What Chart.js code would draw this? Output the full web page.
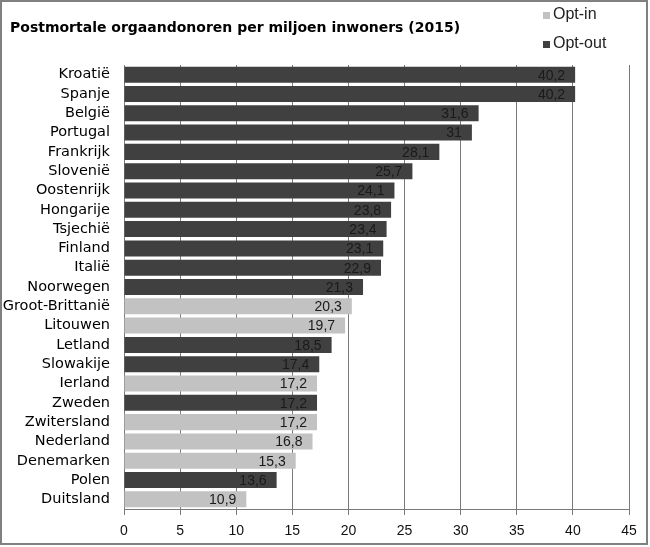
<!DOCTYPE html>
<html>
<head>
<meta charset="utf-8">
<script src="https://cdn.jsdelivr.net/npm/chart.js@4"></script>
<style>
  html, body { margin: 0; padding: 0; background: #fff; }
  #wrap { width: 650px; height: 547px; }
</style>
</head>
<body>
<div id="wrap"><canvas id="c" width="650" height="547"></canvas></div>
<script>
const categories = ["Kroatië","Spanje","België","Portugal","Frankrijk","Slovenië","Oostenrijk","Hongarije","Tsjechië","Finland","Italië","Noorwegen","Groot-Brittanië","Litouwen","Letland","Slowakije","Ierland","Zweden","Zwitersland","Nederland","Denemarken","Polen","Duitsland"];
const donorValues = [40.2,40.2,31.6,31,28.1,25.7,24.1,23.8,23.4,23.1,22.9,21.3,20.3,19.7,18.5,17.4,17.2,17.2,17.2,16.8,15.3,13.6,10.9];
const systemType = ["out","out","out","out","out","out","out","out","out","out","out","out","in","in","out","out","in","out","in","in","in","out","in"];
const seriesNames = ["Opt-in","Opt-out"];
const xTicks = [0,5,10,15,20,25,30,35,40,45];
const titleText = "Postmortale orgaandonoren per miljoen inwoners (2015)";

const COLORS = { "Opt-in": "#c2c2c2", "Opt-out": "#404040" };

const optInData = donorValues.map((v, i) => systemType[i] === "in" ? v : null);
const optOutData = donorValues.map((v, i) => systemType[i] === "out" ? v : null);

const fmt = v => String(v).replace(".", ",");

const decorPlugin = {
  id: "decor",
  afterDatasetsDraw(chart) {
    const ctx = chart.ctx;
    ctx.save();
    ctx.font = "14px 'Liberation Sans', Arial, sans-serif";
    ctx.fillStyle = "#1a1a1a";
    ctx.textAlign = "right";
    ctx.textBaseline = "middle";
    chart.data.datasets.forEach((ds, di) => {
      const meta = chart.getDatasetMeta(di);
      meta.data.forEach((bar, i) => {
        const v = ds.data[i];
        if (v === null || v === undefined) return;
        ctx.fillText(fmt(v), bar.x - 10, bar.y + 1);
      });
    });
    ctx.restore();
  },
  afterDraw(chart) {
    const ctx = chart.ctx;
    ctx.save();
    ctx.font = "bold 14px 'DejaVu Sans', Verdana, sans-serif";
    ctx.fillStyle = "#000";
    ctx.textAlign = "left";
    ctx.textBaseline = "middle";
    ctx.fillText(titleText, 10, 28);
    ctx.font = "16px 'Liberation Sans', Arial, sans-serif";
    const ly = [15, 44];
    seriesNames.forEach((n, k) => {
      ctx.fillStyle = COLORS[n];
      ctx.fillRect(543, ly[k] - 3, 7, 7);
      ctx.fillStyle = "#222";
      ctx.fillText(n, 553, ly[k]);
    });
    ctx.strokeStyle = "#808080";
    ctx.lineWidth = 2;
    ctx.strokeRect(1, 1, 646, 543);
    ctx.restore();
  }
};

new Chart(document.getElementById("c"), {
  type: "bar",
  data: {
    labels: categories,
    datasets: [
      { label: seriesNames[0], data: optInData, backgroundColor: COLORS["Opt-in"], barPercentage: 0.83, categoryPercentage: 1 },
      { label: seriesNames[1], data: optOutData, backgroundColor: COLORS["Opt-out"], barPercentage: 0.83, categoryPercentage: 1 }
    ]
  },
  options: {
    indexAxis: "y",
    responsive: false,
    animation: false,
    devicePixelRatio: 1,
    layout: { padding: { top: 65, right: 21, bottom: 4, left: 2 } },
    plugins: { legend: { display: false }, title: { display: false }, tooltip: { enabled: false } },
    scales: {
      x: {
        stacked: true,
        min: 0, max: 45,
        afterBuildTicks: s => { s.ticks = xTicks.map(v => ({ value: v })); },
        afterFit: s => { s.height = 547 - 509 - 4; },
        grid: { color: "#7a7a7a", lineWidth: 1, tickLength: 6, drawTicks: true },
        border: { color: "#7a7a7a", width: 1 },
        ticks: { color: "#111", font: { family: "'Liberation Sans', Arial, sans-serif", size: 14 }, padding: 8, maxRotation: 0 }
      },
      y: {
        stacked: true,
        afterFit: s => { s.width = 122; },
        grid: { display: false, drawTicks: false },
        border: { color: "#7a7a7a", width: 1 },
        ticks: { color: "#000", font: { family: "'DejaVu Sans', Verdana, sans-serif", size: 14.5 }, padding: 14, autoSkip: false }
      }
    }
  },
  plugins: [decorPlugin]
});
</script>
</body>
</html>
